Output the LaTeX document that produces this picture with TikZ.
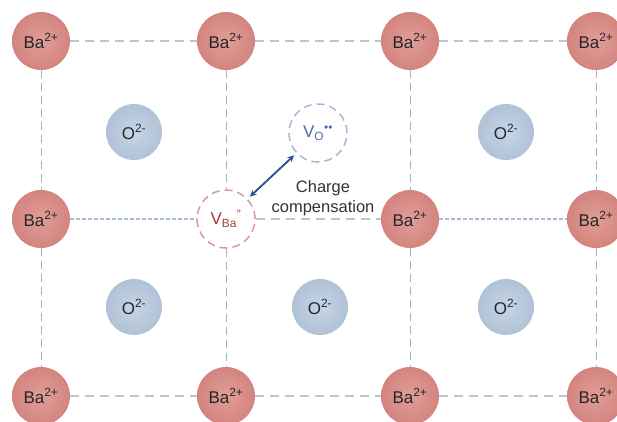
\documentclass[tikz,border=0pt]{standalone}
\usepackage{fontspec}
\setmainfont{Liberation Sans}
\usetikzlibrary{arrows,shapes,positioning}
\definecolor{bared}{HTML}{DA8882}
\definecolor{oblue}{HTML}{B8CAE0}
\definecolor{bondgray}{HTML}{BCC6D2}
\definecolor{bondblue}{HTML}{A3BCDA}
\definecolor{colgray}{HTML}{A4B1C1}
\definecolor{vacred}{HTML}{D99A95}
\definecolor{vacblue}{HTML}{A3BAD6}
\definecolor{arrowblue}{HTML}{2E5591}
\definecolor{vbatext}{HTML}{A63B37}
\definecolor{votext}{HTML}{4A6DA7}

\begin{document}
\begin{tikzpicture}[x=1pt,y=-1pt,
    ion/.style={circle,minimum size=58pt,inner sep=0pt,font=\fontsize{17}{19}\selectfont,text=black!85},
    baion/.style={ion,inner color=bared!82!white,outer color=bared!97!black},
    oion/.style={ion,minimum size=56pt,inner color=oblue!80!white,outer color=oblue!96!black},
    vacancy/.style={circle,minimum size=58pt,inner sep=0pt,line width=1.5pt,dash pattern=on 8pt off 5pt,font=\fontsize{17}{19}\selectfont},
    bond/.style={bondgray,line width=1.8pt,dash pattern=on 9pt off 6pt},
    finebond/.style={bondblue,line width=1.6pt,dash pattern=on 4pt off 2pt},
    column/.style={colgray,line width=1pt,dash pattern=on 8pt off 5pt}]
  \useasboundingbox (0,0) rectangle (617,421);
  \clip (0,0) rectangle (617,421);
  % lattice sites
  \node[baion] (ba11) at (41,41) {Ba\textsuperscript{2+}};
  \node[baion] (ba12) at (226,41) {Ba\textsuperscript{2+}};
  \node[baion] (ba13) at (410,41) {Ba\textsuperscript{2+}};
  \node[baion] (ba14) at (596,41) {Ba\textsuperscript{2+}};
  \node[baion] (ba21) at (41,219) {Ba\textsuperscript{2+}};
  \node[vacancy,draw=vacred,text=vbatext] (vba) at (226,219) {V\textsubscript{Ba}\textsuperscript{”}};
  \node[baion] (ba23) at (410,219) {Ba\textsuperscript{2+}};
  \node[baion] (ba24) at (596,219) {Ba\textsuperscript{2+}};
  \node[baion] (ba31) at (41,396) {Ba\textsuperscript{2+}};
  \node[baion] (ba32) at (226,396) {Ba\textsuperscript{2+}};
  \node[baion] (ba33) at (410,396) {Ba\textsuperscript{2+}};
  \node[baion] (ba34) at (596,396) {Ba\textsuperscript{2+}};
  \node[oion] (o11) at (134,132) {O\textsuperscript{2-}};
  \node[vacancy,draw=vacblue,text=votext] (vo) at (318,133) {V\textsubscript{O}\textsuperscript{\textbullet\textbullet}};
  \node[oion] (o13) at (506,132) {O\textsuperscript{2-}};
  \node[oion] (o21) at (134,307) {O\textsuperscript{2-}};
  \node[oion] (o22) at (320,307) {O\textsuperscript{2-}};
  \node[oion] (o23) at (506,307) {O\textsuperscript{2-}};
  % bonds
  \draw[bond] (ba11) -- (ba12) -- (ba13) -- (ba14);
  \draw[bond] (ba31) -- (ba32) -- (ba33) -- (ba34);
  \draw[finebond] (ba21) -- (vba);
  \draw[bond] (vba) -- (ba23);
  \draw[finebond] (ba23) -- (ba24);
  \draw[column] (ba11) -- (ba21) -- (ba31);
  \draw[column] (ba12) -- (vba) -- (ba32);
  \draw[column] (ba13) -- (ba23) -- (ba33);
  \draw[column] (ba14) -- (ba24) -- (ba34);
  % compensation
  \draw[<->,>=stealth,arrowblue,line width=1.9pt,shorten <=3pt,shorten >=3pt] (vba) -- (vo);
  \node[font=\fontsize{16.5}{19.5}\selectfont,align=center,text=black!80] (cc) at (323,198) {Charge\\compensation};
\end{tikzpicture}
\end{document}
